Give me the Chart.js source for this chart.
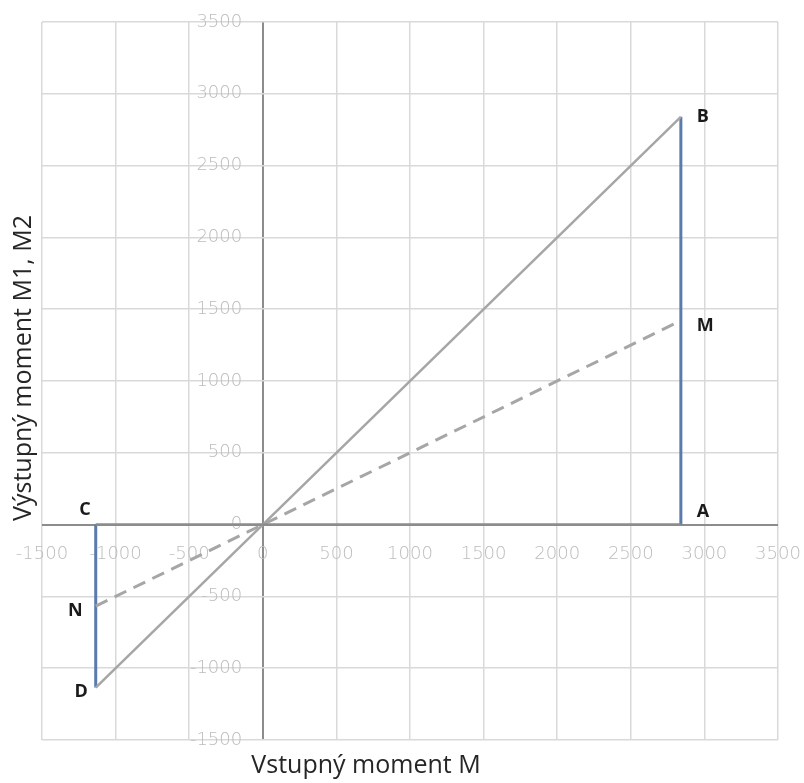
<!DOCTYPE html>
<html lang="sk">
<head>
  <meta charset="UTF-8" />
  <title>Vstupný / výstupný moment</title>
  <style>
    body { margin: 0; background: #fff; }
    #wrap { width: 804px; height: 783px; }
  </style>
</head>
<body>
  <div id="wrap"><canvas id="graf"></canvas></div>

  <script src="https://cdn.jsdelivr.net/npm/chart.js"></script>
  <script>
    // hodnoty odčítané z grafu
    const vstupM = [-1135, 0, 2840];     // Vstupný moment M
    const vystupM1 = [-1135, 0, 2840];   // M1 (plná čiara D - B)
    const vystupM2 = [-568, 0, 1420];    // M2 (prerušovaná čiara N - M)
    const osMin = -1500, osMax = 3500, krok = 500;

    // body s písmenami: [písmeno, x, y]
    const body = [
      ['B', vstupM[2], vystupM1[2]],
      ['M', vstupM[2], vystupM2[2]],
      ['A', vstupM[2], 0],
      ['C', vstupM[0], 0],
      ['N', vstupM[0], vystupM2[0]],
      ['D', vstupM[0], vystupM1[0]]
    ];

    const sedaCiara = '#a6a6a6';
    const modra = '#5a7bab';

    const bodyXY = (xs, ys) => xs.map((x, i) => ({ x, y: ys[i] }));

    // popisky osí a písmená kreslí malý plugin
    const popisky = {
      id: 'popisky',
      afterDraw(chart) {
        const ctx = chart.ctx;
        const sx = chart.scales.x, sy = chart.scales.y;
        ctx.save();
        ctx.fillStyle = '#262626';
        ctx.font = '25px "Open Sans", sans-serif';
        ctx.textAlign = 'center';
        ctx.textBaseline = 'middle';
        ctx.fillText('Vstupný moment M', 366, 766);
        ctx.translate(24, 368);
        ctx.rotate(-Math.PI / 2);
        ctx.fillText('Výstupný moment M1, M2', 0, 0);
        ctx.restore();

        ctx.save();
        ctx.fillStyle = '#1a1a1a';
        ctx.font = 'bold 18px "Open Sans", sans-serif';
        ctx.textBaseline = 'middle';
        const posun = { B: [16, 0, 'left'], M: [16, 5, 'left'], A: [16, -13, 'left'],
                        C: [-5, -15, 'right'], N: [-13, 5, 'right'], D: [-8, 4, 'right'] };
        body.forEach(([p, x, y]) => {
          const [dx, dy, al] = posun[p];
          ctx.textAlign = al;
          ctx.fillText(p, sx.getPixelForValue(x) + dx, sy.getPixelForValue(y) + dy);
        });
        ctx.restore();
      }
    };

    const mriezka = {
      color: ctx => ctx.tick && ctx.tick.value === 0 ? '#8c8c8c' : '#d9d9d9',
      lineWidth: ctx => ctx.tick && ctx.tick.value === 0 ? 2 : 1.5,
      drawTicks: false
    };
    const pismoOsi = { size: 18, family: 'DejaVu Sans', weight: '200' };

    new Chart(document.getElementById('graf'), {
      type: 'scatter',
      data: {
        datasets: [
          { data: [{ x: vstupM[0], y: 0 }, { x: vstupM[2], y: 0 }], borderColor: '#8c8c8c', borderWidth: 2.5 },
          { data: bodyXY(vstupM, vystupM1), borderColor: sedaCiara, borderWidth: 2.5 },
          { data: bodyXY(vstupM, vystupM2), borderColor: sedaCiara, borderWidth: 3, borderDash: [13, 8] },
          { data: [{ x: vstupM[2], y: 0 }, { x: vstupM[2], y: vystupM1[2] }], borderColor: modra, borderWidth: 3 },
          { data: [{ x: vstupM[0], y: 0 }, { x: vstupM[0], y: vystupM1[0] }], borderColor: modra, borderWidth: 3 }
        ].map(d => Object.assign(d, { showLine: true, pointRadius: 0, fill: false, borderCapStyle: 'butt' }))
      },
      options: {
        responsive: true,
        maintainAspectRatio: false,
        animation: false,
        layout: { autoPadding: false, padding: { left: 42, right: 26, top: 22, bottom: 43 } },
        plugins: { legend: { display: false }, tooltip: { enabled: false } },
        scales: {
          x: {
            type: 'linear', min: osMin, max: osMax,
            // popisky o kúsok pod vodorovnou nulou
            position: { y: -135 },
            ticks: { stepSize: krok, color: '#bdbdbd', font: pismoOsi, padding: 0, maxRotation: 0, callback: v => String(v) },
            grid: mriezka,
            border: { display: false }
          },
          y: {
            type: 'linear', min: osMin, max: osMax,
            // popisky o kúsok vľavo od zvislej nuly
            position: { x: -140 },
            ticks: { stepSize: krok, color: '#bdbdbd', font: pismoOsi, padding: 0, callback: v => String(v) },
            grid: mriezka,
            border: { display: false }
          }
        }
      },
      plugins: [popisky]
    });
  </script>
</body>
</html>
